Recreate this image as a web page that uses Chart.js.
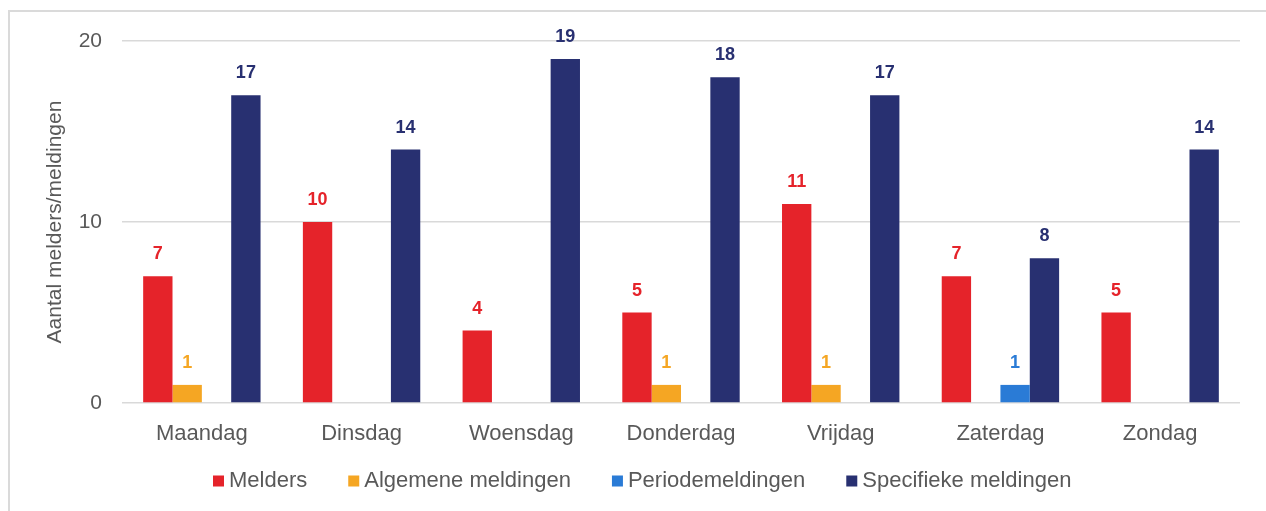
<!DOCTYPE html>
<html lang="nl">
<head>
<meta charset="utf-8">
<title>Melders en meldingen per dag</title>
<script src="https://cdn.jsdelivr.net/npm/chart.js@4"></script>
<style>
  html, body { margin: 0; padding: 0; background: #fff; overflow: hidden; }
  body { width: 1266px; height: 511px; position: relative; }
  #frame {
    position: absolute; left: 8px; top: 10px; width: 1280px; height: 560px;
    border: 2px solid #dadada; box-sizing: border-box;
  }
  #wrap { position: absolute; left: 0; top: 0; width: 1266px; height: 511px; }
</style>
</head>
<body>
<div id="frame"></div>
<div id="wrap"><canvas id="chart" width="1266" height="511"></canvas></div>
<script>
// ── Data ─────────────────────────────────────────────────────
const days        = ['Maandag', 'Dinsdag', 'Woensdag', 'Donderdag', 'Vrijdag', 'Zaterdag', 'Zondag'];
const melders     = [7, 10, 4, 5, 11, 7, 5];
const algemene    = [1, 0, 0, 1, 1, 0, 0];
const periode     = [0, 0, 0, 0, 0, 1, 0];
const specifieke  = [17, 14, 19, 18, 17, 8, 14];
const yTicks      = [0, 10, 20];

const seriesNames  = ['Melders', 'Algemene meldingen', 'Periodemeldingen', 'Specifieke meldingen'];
const seriesColors = ['#e5232a', '#f5a623', '#2a7bd6', '#283071'];

const TEXT = '#595959';
const FONT = "'Liberation Sans', Arial, sans-serif";

// ── Value labels above bars (skip zeros) ─────────────────────
const valueLabels = {
  id: 'valueLabels',
  afterDatasetsDraw(chart) {
    const { ctx } = chart;
    ctx.save();
    ctx.font = `bold 18px ${FONT}`;
    ctx.textAlign = 'center';
    ctx.textBaseline = 'alphabetic';
    chart.data.datasets.forEach((ds, i) => {
      chart.getDatasetMeta(i).data.forEach((bar, j) => {
        const v = ds.data[j];
        if (!v) return;
        ctx.fillStyle = ds.backgroundColor;
        ctx.fillText(String(v), bar.x, bar.y - 17);
      });
    });
    ctx.restore();
  }
};

// ── Legend row (tight box/text gap like the original) ────────
const legendRow = {
  id: 'legendRow',
  afterDraw(chart) {
    const { ctx } = chart;
    ctx.save();
    ctx.font = `22px ${FONT}`;
    ctx.textBaseline = 'middle';
    ctx.textAlign = 'left';
    let x = 213;
    const y = 481;
    chart.data.datasets.forEach(ds => {
      ctx.fillStyle = ds.backgroundColor;
      ctx.fillRect(x, y - 5.5, 11, 11);
      ctx.fillStyle = TEXT;
      ctx.fillText(ds.label, x + 16, y);
      x += 16 + ctx.measureText(ds.label).width + 41;
    });
    ctx.restore();
  }
};

const seriesData = [melders, algemene, periode, specifieke];

new Chart(document.getElementById('chart'), {
  type: 'bar',
  data: {
    labels: days,
    datasets: seriesData.map((d, i) => ({
      label: seriesNames[i],
      data: d,
      backgroundColor: seriesColors[i],
      borderWidth: 0,
      barPercentage: 1,
      categoryPercentage: 0.735,
    })),
  },
  options: {
    responsive: false,
    animation: false,
    devicePixelRatio: 1,
    layout: { padding: { left: 0, right: 26, top: 41, bottom: 56 } },
    plugins: {
      legend: { display: false },
      tooltip: { enabled: false },
    },
    scales: {
      x: {
        grid: { display: false },
        border: { display: false },
        ticks: { color: TEXT, font: { family: FONT, size: 22 }, padding: 10 },
        afterFit: s => { s.height = 52; },
      },
      y: {
        min: 0,
        max: 20,
        afterBuildTicks: s => { s.ticks = yTicks.map(v => ({ value: v })); },
        grid: { color: '#d9d9d9', lineWidth: 1.5, drawTicks: false },
        border: { display: false },
        ticks: { color: TEXT, font: { family: FONT, size: 21 }, padding: 20 },
        title: {
          display: true,
          text: 'Aantal melders/meldingen',
          color: TEXT,
          font: { family: FONT, size: 21 },
          padding: { top: 43, bottom: 0 },
        },
        afterFit: s => { s.width = 122; },
      },
    },
  },
  plugins: [valueLabels, legendRow],
});
</script>
</body>
</html>
